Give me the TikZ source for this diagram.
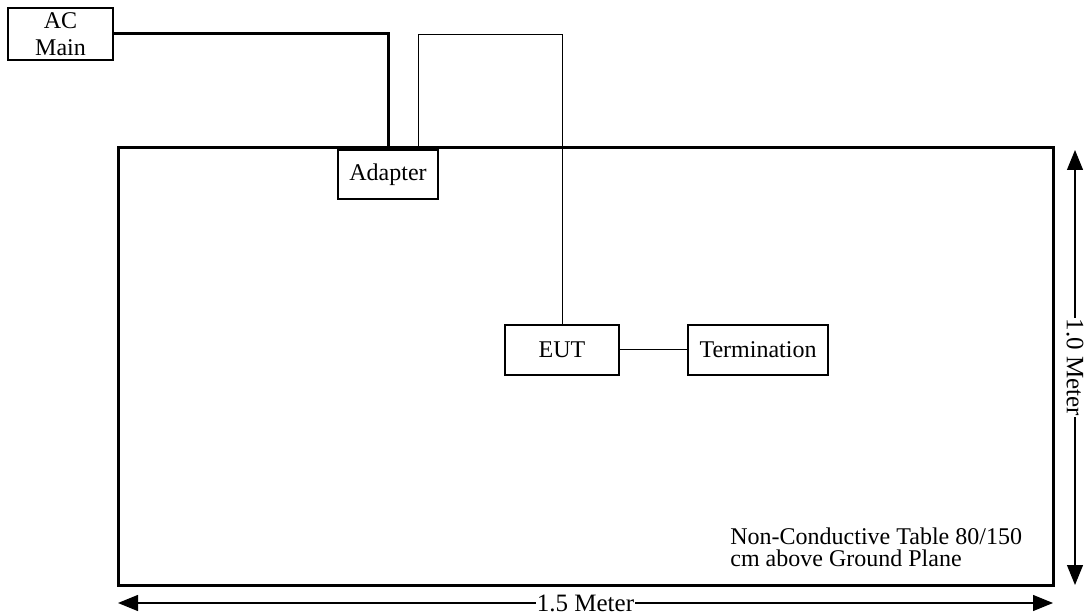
\documentclass[tikz,border=0pt]{standalone}
\usepackage{fontspec}
\setmainfont{Liberation Serif}
\usetikzlibrary{arrows.meta,positioning,calc}

\tikzset{
    box/.style={draw, line width=0.75pt, inner sep=0pt, font=\fontsize{12}{13.5}\selectfont, align=center},
    power/.style={line width=1.5pt},
    cable/.style={line width=0.5pt},
    dim/.style={line width=0.6pt, {Triangle[length=10pt,width=8pt]}-{Triangle[length=10pt,width=8pt]}},
    dimlabel/.style={fill=white, inner sep=0.5pt, font=\fontsize{12.5}{13}\selectfont}
}

\begin{document}
\begin{tikzpicture}[x=0.5pt, y=-0.5pt]
    \useasboundingbox (0,0) rectangle (1084,615);
    % Table
    \coordinate (tl) at (118,148);
    \coordinate (br) at (1053,585);
    \draw[power] (tl) rectangle (br);
    % Boxes
    \node[box, minimum width=52.5pt, minimum height=26pt] (ac) at (60.5,34) {AC\\Main};
    \node[box, minimum width=50pt, minimum height=24.5pt] (adapter) at (388,174.5) {Adapter};
    \node[box, minimum width=57pt, minimum height=25pt] (eut) at (562,350) {EUT};
    \node[box, minimum width=70pt, minimum height=25pt] (term) at (758,350) {Termination};
    % Cables
    \draw[power] (ac.east) -| (adapter.north);
    \coordinate (bend) at (418,35);
    \draw[cable] (adapter.north -| bend) -- (bend) -| (eut.north);
    \draw[cable] (eut) -- (term);
    % Note
    \node[anchor=north west, inner sep=0pt, align=left, font=\fontsize{12}{11}\selectfont] (note) at (730,527)
        {Non-Conductive Table 80/150\\cm above Ground Plane};
    % Dimensions
    \coordinate (h1) at (118,603);
    \coordinate (h2) at (1053,603);
    \draw[dim] (h1) -- node[dimlabel] (wlabel) {1.5 Meter} (h2);
    \coordinate (v1) at (1075,150);
    \coordinate (v2) at (1075,585);
    \draw[dim] (v1) -- node[dimlabel, rotate=-90] (hlabel) {1.0 Meter} (v2);
\end{tikzpicture}
\end{document}
